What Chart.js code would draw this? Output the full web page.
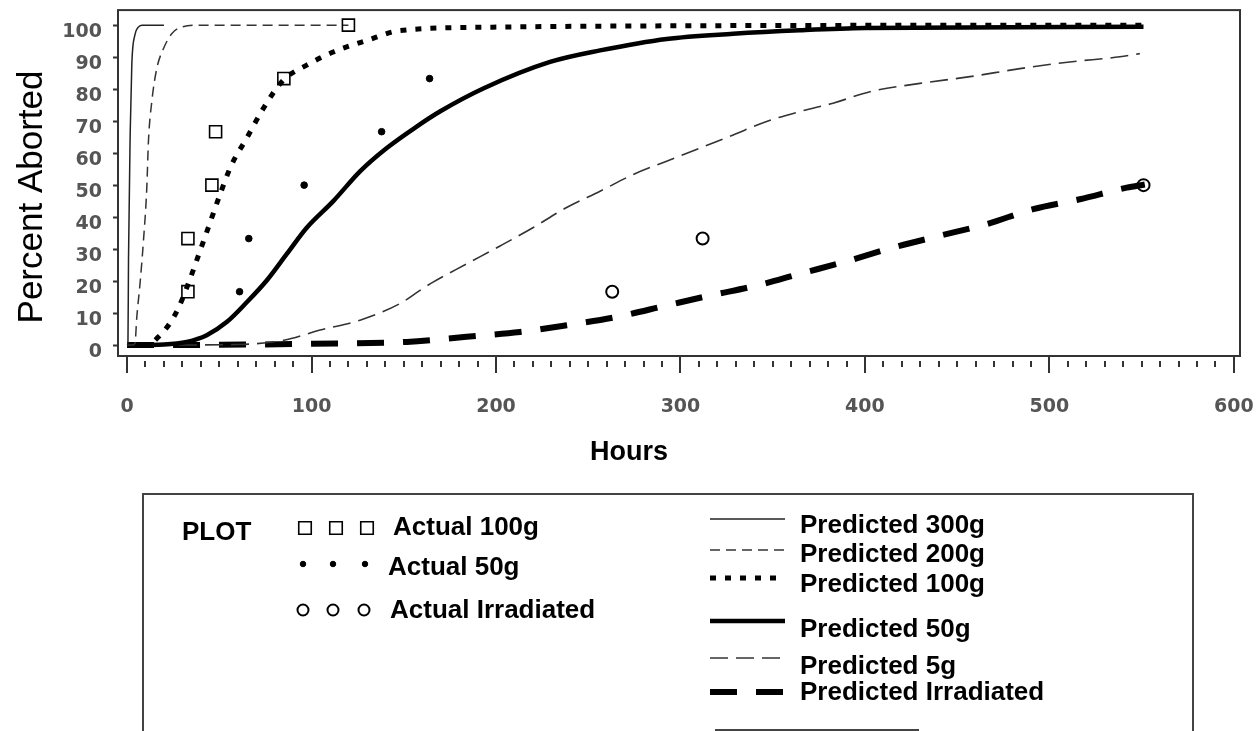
<!DOCTYPE html>
<html>
<head>
<meta charset="utf-8">
<script src="https://cdn.jsdelivr.net/npm/chart.js@4.4.1/dist/chart.umd.min.js"></script>
<style>
  html, body { margin: 0; padding: 0; background: #fff; }
  #wrap { width: 1259px; height: 731px; position: relative; overflow: hidden; }
</style>
</head>
<body>
<div id="wrap"><canvas id="abortChart" width="1259" height="731"></canvas></div>
<script>
// observed abortion percentages
const actual100Hours = [33, 33, 46, 48, 85, 120];
const actual100Pct   = [16.7, 33.3, 50, 66.7, 83.3, 100];
const actual50Hours  = [61, 66, 96, 138, 164];
const actual50Pct    = [16.7, 33.3, 50, 66.7, 83.3];
const actualIrrHours = [263, 312, 551];
const actualIrrPct   = [16.7, 33.3, 50];

// predicted curves
const pred300Hours = [0, 0.5, 0.8, 1.7, 2.6, 4.3, 6, 8, 20];
const pred300Pct   = [0, 1, 27, 66, 88, 97, 99.3, 100, 100];

const pred200Hours = [0, 3, 4.3, 5.3, 7, 8.9, 10.7, 11.6, 13.4, 16.1, 19.7, 24.2, 29.6, 40, 120];
const pred200Pct   = [0, 0, 0.5, 8.8, 19, 32.6, 49, 63.7, 76, 86.4, 92.6, 97.3, 99.4, 100, 100];

const pred100Hours = [0, 10.7, 17.9, 23.3, 27.8, 33.2, 39.6, 45, 50.4, 56.7, 64.9, 73.9, 84.7, 97.4, 111.8, 129.9, 148, 202, 300, 551];
const pred100Pct   = [0, 0, 3.1, 6.9, 11.5, 19.2, 29.5, 38.3, 47.1, 56.4, 64.7, 74, 82.8, 87.5, 91.6, 95.2, 98.3, 99.4, 99.8, 100];

const pred50Hours = [0, 20, 32.4, 43.2, 54, 64.9, 75.7, 86.6, 97.4, 111.8, 126.3, 140.8, 157, 169.6, 193.1, 229.3, 256.4, 292.5, 328.5, 364.8, 400, 551];
const pred50Pct   = [0, 0.2, 1, 3.1, 7.2, 13.4, 20.2, 28.5, 36.7, 45, 54.3, 61.6, 68.3, 73, 80.2, 88.5, 92.1, 95.7, 97.3, 98.4, 99.1, 99.5];

const pred5Hours = [0, 60, 85, 104.6, 126.3, 148, 158.8, 165.9, 184.1, 202.2, 220, 238.3, 256.4, 274.3, 292.5, 310.8, 328.6, 346.7, 364.8, 382.7, 402.7, 429.8, 456.9, 484, 511, 538.2, 549];
const pred5Pct   = [0, 0.2, 1.5, 4.7, 7.8, 13, 17.1, 19.7, 25.4, 31, 36.7, 43, 48.1, 53.3, 57.5, 61.6, 65.7, 69.9, 73, 75.6, 79.2, 81.8, 83.9, 86.4, 88.5, 90.1, 91.1];

const predIrrHours = [0, 50, 100, 151.6, 184, 213, 238.3, 265.4, 292.5, 316, 341.3, 364.8, 388.2, 415.3, 440.7, 466, 491.2, 516.5, 541.9, 551.7];
const predIrrPct   = [0, 0.1, 0.4, 1, 2.6, 4.1, 6.2, 8.8, 12.4, 15.5, 18.6, 22.3, 25.9, 30.5, 34.2, 37.8, 42.5, 45.6, 49.2, 50.2];

const yTicks = [0, 10, 20, 30, 40, 50, 60, 70, 80, 90, 100];
const xTicks = [0, 100, 200, 300, 400, 500, 600];

function pairs(xs, ys) {
  return xs.map((h, i) => ({ x: h, y: ys[i] }));
}

// marker series
const markerSets = [
  { label: 'Actual 100g', data: pairs(actual100Hours, actual100Pct), style: 'rect', radius: 8.5, fill: 'rgba(0,0,0,0)', width: 1.6 },
  { label: 'Actual 50g', data: pairs(actual50Hours, actual50Pct), style: 'circle', radius: 3.3, fill: '#000', width: 1 },
  { label: 'Actual Irradiated', data: pairs(actualIrrHours, actualIrrPct), style: 'circle', radius: 6, fill: 'rgba(0,0,0,0)', width: 2 }
];

// predicted line series
const lineSets = [
  { label: 'Predicted 300g', data: pairs(pred300Hours, pred300Pct), width: 1.5, dash: [], color: '#222' },
  { label: 'Predicted 200g', data: pairs(pred200Hours, pred200Pct), width: 1.5, dash: [10, 6], color: '#333' },
  { label: 'Predicted 100g', data: pairs(pred100Hours, pred100Pct), width: 5, dash: [6, 9], color: '#000' },
  { label: 'Predicted 50g', data: pairs(pred50Hours, pred50Pct), width: 4.5, dash: [], color: '#000' },
  { label: 'Predicted 5g', data: pairs(pred5Hours, pred5Pct), width: 1.6, dash: [18, 8], color: '#333' },
  { label: 'Predicted Irradiated', data: pairs(predIrrHours, predIrrPct), width: 6, dash: [27, 19], color: '#000' }
];

const datasets = [];
markerSets.forEach(m => {
  datasets.push({
    label: m.label,
    data: m.data,
    showLine: false,
    pointStyle: m.style,
    pointRadius: m.radius,
    pointBackgroundColor: m.fill,
    pointBorderColor: '#000',
    pointBorderWidth: m.width,
    order: 0
  });
});
lineSets.forEach((l, i) => {
  datasets.push({
    label: l.label,
    data: l.data,
    showLine: true,
    borderColor: l.color,
    borderWidth: l.width,
    borderDash: l.dash,
    borderCapStyle: 'butt',
    pointRadius: 0,
    cubicInterpolationMode: 'monotone',
    fill: false,
    order: i + 1
  });
});

function drawMarker(ctx, ds, x, y, size) {
  ctx.save();
  ctx.lineWidth = ds.pointBorderWidth;
  ctx.strokeStyle = ds.pointBorderColor;
  ctx.fillStyle = ds.pointBackgroundColor;
  ctx.beginPath();
  if (ds.pointStyle === 'rect') {
    ctx.rect(x - size / 2, y - size / 2, size, size);
  } else {
    ctx.arc(x, y, size / 2, 0, Math.PI * 2);
  }
  ctx.fill();
  ctx.stroke();
  ctx.restore();
}

// frame, custom x ticks, axis titles and the legend box
const decorPlugin = {
  id: 'decor',
  afterDraw(chart) {
    const { ctx, chartArea: a } = chart;
    const xs = chart.scales.x;
    ctx.save();

    ctx.strokeStyle = '#333';
    ctx.lineWidth = 2;
    ctx.strokeRect(a.left, a.top, a.right - a.left, a.bottom - a.top);

    // tick marks every 10 hours, longer every 100
    for (let h = 0; h <= 600; h += 10) {
      const px = Math.round(xs.getPixelForValue(h));
      const major = h % 100 === 0;
      ctx.lineWidth = 2;
      ctx.beginPath();
      ctx.moveTo(px, a.bottom + (major ? 0 : 5));
      ctx.lineTo(px, a.bottom + (major ? 17 : 11));
      ctx.stroke();
    }

    // axis titles
    ctx.fillStyle = '#000';
    ctx.font = 'bold 27px "Liberation Sans", Arial, sans-serif';
    ctx.textAlign = 'center';
    ctx.textBaseline = 'alphabetic';
    ctx.fillText('Hours', 629, 460);

    ctx.save();
    ctx.translate(42, 197);
    ctx.rotate(-Math.PI / 2);
    ctx.font = '35px "Liberation Sans", Arial, sans-serif';
    ctx.fillText('Percent Aborted', 0, 0);
    ctx.restore();

    // legend box
    ctx.strokeStyle = '#444';
    ctx.lineWidth = 2;
    ctx.strokeRect(143, 494, 1193 - 143, 300);
    ctx.beginPath();
    ctx.moveTo(715, 730);
    ctx.lineTo(919, 730);
    ctx.stroke();

    ctx.textAlign = 'left';
    ctx.font = 'bold 26px "Liberation Sans", Arial, sans-serif';
    ctx.fillText('PLOT', 182, 540);

    const ds = chart.data.datasets;
    const markerRows = [
      { xs: [305, 336, 367], y: 528, size: 12.5, tx: 393, ty: 535 },
      { xs: [303, 333, 365], y: 564, size: 5.5, tx: 388, ty: 575 },
      { xs: [303, 333, 364], y: 610, size: 11, tx: 390, ty: 618 }
    ];
    markerRows.forEach((r, i) => {
      const d = ds[i];
      r.xs.forEach(x => drawMarker(ctx, d, x, r.y, r.size));
      ctx.fillStyle = '#000';
      ctx.fillText(d.label, r.tx, r.ty);
    });

    const lineRows = [
      { y: 519, ty: 533 },
      { y: 550, ty: 562 },
      { y: 578, ty: 592 },
      { y: 621, ty: 637 },
      { y: 658, ty: 674 },
      { y: 692, ty: 700 }
    ];
    lineRows.forEach((r, i) => {
      const d = ds[markerSets.length + i];
      ctx.save();
      ctx.strokeStyle = d.borderColor;
      ctx.lineWidth = d.borderWidth;
      ctx.setLineDash(d.borderDash);
      ctx.beginPath();
      ctx.moveTo(710, r.y);
      ctx.lineTo(785, r.y);
      ctx.stroke();
      ctx.restore();
      ctx.fillStyle = '#000';
      ctx.fillText(d.label, 800, r.ty);
    });

    ctx.restore();
  }
};

const ctx = document.getElementById('abortChart').getContext('2d');
new Chart(ctx, {
  type: 'scatter',
  data: { datasets: datasets },
  plugins: [decorPlugin],
  options: {
    responsive: false,
    animation: false,
    events: [],
    layout: { padding: { top: 8, right: 19, bottom: 315, left: 0 } },
    plugins: {
      legend: { display: false },
      tooltip: { enabled: false }
    },
    scales: {
      x: {
        type: 'linear',
        min: -4.9,
        max: 603.3,
        afterBuildTicks: scale => { scale.ticks = xTicks.map(v => ({ value: v })); },
        afterFit: scale => {
          scale.height = 60;
          scale.paddingLeft = 0;
          scale.paddingRight = 0;
        },
        grid: { display: false, drawTicks: false },
        border: { display: false },
        ticks: {
          padding: 40,
          color: '#555',
          font: { family: '"DejaVu Sans", sans-serif', size: 19, weight: 'bold' }
        }
      },
      y: {
        min: -3.4,
        max: 104.7,
        afterBuildTicks: scale => { scale.ticks = yTicks.map(v => ({ value: v })); },
        afterFit: scale => {
          scale.width = 118;
          scale.paddingTop = 0;
          scale.paddingBottom = 0;
        },
        grid: { drawOnChartArea: false, tickLength: 5, tickColor: '#333', tickWidth: 2 },
        border: { display: false },
        ticks: {
          padding: 11,
          labelOffset: 7,
          color: '#555',
          font: { family: '"DejaVu Sans", sans-serif', size: 19, weight: 'bold' }
        }
      }
    }
  }
});
</script>
</body>
</html>
